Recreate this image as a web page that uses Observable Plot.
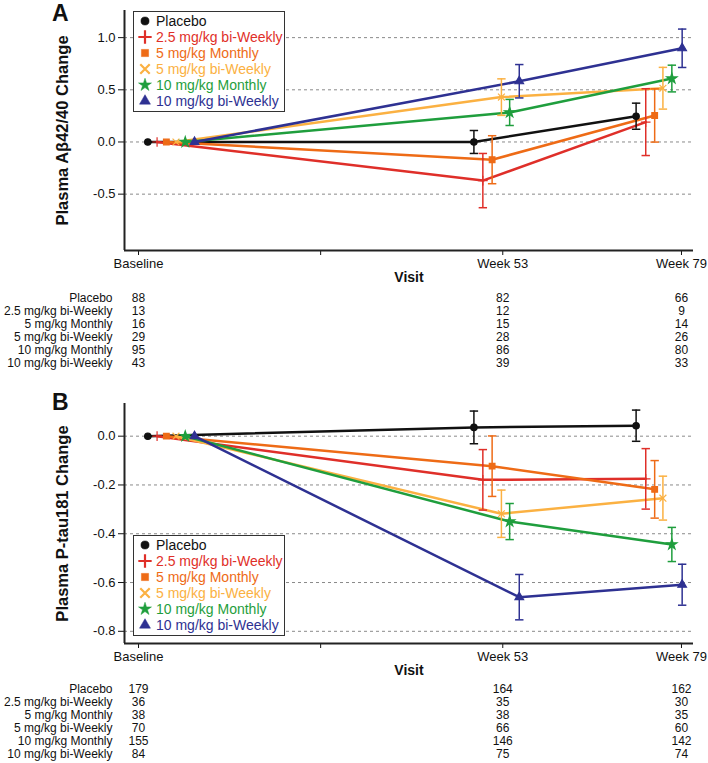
<!DOCTYPE html>
<html><head><meta charset="utf-8">
<script src="https://cdn.jsdelivr.net/npm/d3@7"></script>
<script src="https://cdn.jsdelivr.net/npm/@observablehq/plot@0.6"></script>
<style>
body{margin:0;background:#fff;font-family:"Liberation Sans",Arial,sans-serif;}
#root{position:relative;width:708px;height:763px;overflow:hidden;background:#fff;}
.abs{position:absolute;left:0;}
.letter{position:absolute;font-weight:bold;font-size:23px;line-height:23px;color:#111;}
.legend{position:absolute;border:1px solid #333;background:#fff;box-sizing:border-box;padding-top:1px;padding-left:4px;}
.legend .row{display:flex;align-items:center;height:16px;font-size:14px;white-space:nowrap;}
.legend svg{width:14px;height:16px;margin-right:4px;flex:none;}
</style></head><body><div id="root"></div><script>
// ---- data ----
const groups = ["Placebo", "2.5 mg/kg bi-Weekly", "5 mg/kg Monthly", "5 mg/kg bi-Weekly", "10 mg/kg Monthly", "10 mg/kg bi-Weekly"];
const colors = ["#111111", "#df2f29", "#ee6b16", "#fbb142", "#1f9e3d", "#2e3192"];
const symbolNames = ["circle", "plus", "square", "times", "star", "triangle"];
const visitWeeks = [0, 53, 79];
// plotted (dodged) visit time in weeks, per visit, per group
const xBaseline = [1.35, 2.7, 4.05, 5.45, 6.8, 8.15];
const xWeek53 = [48.8, 50.1, 51.45, 52.8, 54.0, 55.4];
const xWeek79 = [72.4, 73.8, 75.1, 76.3, 77.6, 79.1];
const xTickValues = [0, 26.5, 53, 79];
const xTickLabels = ["Baseline", "", "Week 53", "Week 79"];
const xDomain = [-2.04, 80.75];

// Panel A: Plasma Abeta42/40 change (mean, error)
const meanA_placebo = [0, 0.0, 0.247];   const errA_placebo = [0, 0.11, 0.125];
const meanA_25bw    = [0, -0.37, 0.19];  const errA_25bw    = [0, 0.26, 0.32];
const meanA_5m      = [0, -0.17, 0.254]; const errA_5m      = [0, 0.23, 0.255];
const meanA_5bw     = [0, 0.43, 0.515];  const errA_5bw     = [0, 0.175, 0.2];
const meanA_10m     = [0, 0.283, 0.608]; const errA_10m     = [0, 0.125, 0.128];
const meanA_10bw    = [0, 0.582, 0.898]; const errA_10bw    = [0, 0.16, 0.184];
const yTicksA = [-0.5, 0, 0.5, 1.0];
const yDomainA = [-1.04, 1.26];
const countsA = [[88, 82, 66], [13, 12, 9], [16, 15, 14], [29, 28, 26], [95, 86, 80], [43, 39, 33]];

// Panel B: Plasma P-tau181 change
const meanB_placebo = [0, 0.036, 0.043];  const errB_placebo = [0, 0.067, 0.064];
const meanB_25bw    = [0, -0.179, -0.175]; const errB_25bw   = [0, 0.124, 0.124];
const meanB_5m      = [0, -0.123, -0.218]; const errB_5m     = [0, 0.124, 0.118];
const meanB_5bw     = [0, -0.318, -0.254]; const errB_5bw    = [0, 0.097, 0.09];
const meanB_10m     = [0, -0.35, -0.444];  const errB_10m    = [0, 0.074, 0.07];
const meanB_10bw    = [0, -0.66, -0.609];  const errB_10bw   = [0, 0.093, 0.084];
const yTicksB = [-0.8, -0.6, -0.4, -0.2, 0];
const yDomainB = [-0.85, 0.134];
const countsB = [[179, 164, 162], [36, 35, 30], [38, 38, 35], [70, 66, 60], [155, 146, 142], [84, 75, 74]];

// ---- drawing ----
const xPos = [xBaseline, xWeek53, xWeek79];
const FONT = "'Liberation Sans', Arial, sans-serif";
const capSymbol = {draw(ctx, size) { const w = Math.sqrt(size / Math.PI); ctx.moveTo(-w, 0); ctx.lineTo(w, 0); }};

function chart(means, errs, yDomain, yTicks, yLabel, height, marginTop) {
  const rows = [];
  groups.forEach((g, i) => [0, 1, 2].forEach(v => rows.push({group: g, x: xPos[v][i], y: means[i][v], e: errs[i][v]})));
  const eb = rows.filter(d => d.e > 0);
  return Plot.plot({
    width: 708, height, marginLeft: 124, marginRight: 15, marginTop, marginBottom: 42,
    style: {fontFamily: FONT, fontSize: "13px", background: "transparent", overflow: "visible", color: "#111"},
    x: {domain: xDomain},
    y: {domain: yDomain},
    color: {domain: groups, range: colors},
    symbol: {domain: groups, range: symbolNames},
    marks: [
      Plot.ruleY(yTicks, {stroke: "#8a8a8a", strokeDasharray: "3,3", strokeWidth: 1}),
      Plot.axisY({ticks: yTicks, tickFormat: d => d.toFixed(1), tickSize: 6, tickPadding: 3, label: null, fontSize: 13}),
      Plot.axisX({ticks: xTickValues, tickFormat: d => xTickLabels[xTickValues.indexOf(d)], tickSize: 5, tickPadding: 3, label: null, fontSize: 13}),
      Plot.ruleX([xDomain[0]], {stroke: "#222", strokeWidth: 2}),
      Plot.ruleY([yDomain[0]], {stroke: "#222", strokeWidth: 2}),
      Plot.line(rows, {x: "x", y: "y", z: "group", stroke: "group", strokeWidth: 2.5}),
      Plot.ruleX(eb, {x: "x", y1: d => d.y - d.e, y2: d => d.y + d.e, stroke: "group", strokeWidth: 1.5}),
      Plot.dot(eb, {x: "x", y: d => d.y + d.e, symbol: capSymbol, r: 4.2, stroke: "group", fill: "none", strokeWidth: 1.5}),
      Plot.dot(eb, {x: "x", y: d => d.y - d.e, symbol: capSymbol, r: 4.2, stroke: "group", fill: "none", strokeWidth: 1.5}),
      Plot.dot(rows, {x: "x", y: "y", symbol: "group", fill: "group", stroke: "group", r: 3.2, strokeWidth: 1.2}),
      Plot.text([yLabel], {frameAnchor: "left", textAnchor: "middle", lineAnchor: "middle", rotate: -90, dx: -62, fontWeight: "bold", fontSize: 16.5, fill: "#111"}),
      Plot.text(["Visit"], {frameAnchor: "bottom", textAnchor: "middle", dy: 31, fontWeight: "bold", fontSize: 14, fill: "#111"})
    ]
  });
}

function table(counts) {
  const rows = [];
  groups.forEach((g, i) => visitWeeks.forEach((w, j) => rows.push({group: g, x: w, n: counts[i][j]})));
  return Plot.plot({
    width: 708, height: 78, marginLeft: 124, marginRight: 15, marginTop: 0, marginBottom: 0,
    style: {fontFamily: FONT, fontSize: "12px", background: "transparent", overflow: "visible", color: "#111"},
    x: {domain: xDomain, axis: null},
    y: {type: "band", domain: groups, padding: 0},
    marks: [
      Plot.axisY({tickSize: 0, tickPadding: 12, fontSize: 12, label: null}),
      Plot.text(rows, {x: "x", y: "group", text: "n", fontSize: 12, fill: "#111"})
    ]
  });
}

function legend(left, top) {
  const div = document.createElement("div");
  div.className = "legend";
  Object.assign(div.style, {left: left + "px", top: top + "px", width: "152px", height: "101px"});
  const symMap = {circle: d3.symbolCircle, plus: d3.symbolPlus, square: d3.symbolSquare, times: d3.symbolTimes, star: d3.symbolStar, triangle: d3.symbolTriangle};
  groups.forEach((g, i) => {
    const row = document.createElement("div");
    row.className = "row";
    const stroked = symbolNames[i] === "plus" || symbolNames[i] === "times";
    const path = d3.symbol(symMap[symbolNames[i]], stroked ? 60 : 52)();
    row.innerHTML = `<svg viewBox="-7 -8 14 16"><path d="${path}" fill="${stroked ? "none" : colors[i]}" stroke="${colors[i]}" stroke-width="${stroked ? 2.2 : 0.5}"/></svg>`;
    const span = document.createElement("span");
    span.textContent = g;
    span.style.color = colors[i];
    row.appendChild(span);
    div.appendChild(row);
  });
  return div;
}

const root = document.getElementById("root");
function place(el, top) { const w = document.createElement("div"); w.className = "abs"; w.style.top = top + "px"; w.appendChild(el); root.appendChild(w); }

place(chart([meanA_placebo, meanA_25bw, meanA_5m, meanA_5bw, meanA_10m, meanA_10bw],
             [errA_placebo, errA_25bw, errA_5m, errA_5bw, errA_10m, errA_10bw],
             yDomainA, yTicksA, "Plasma Aβ42/40 Change", 292, 10), 0);
place(table(countsA), 291);
place(chart([meanB_placebo, meanB_25bw, meanB_5m, meanB_5bw, meanB_10m, meanB_10bw],
             [errB_placebo, errB_25bw, errB_5m, errB_5bw, errB_10m, errB_10bw],
             yDomainB, yTicksB, "Plasma P-tau181 Change", 295, 13), 390);
place(table(countsB), 681.5);
root.appendChild(legend(133, 11));
root.appendChild(legend(133, 535));
const la = document.createElement("div"); la.className = "letter"; la.textContent = "A"; la.style.left = "52px"; la.style.top = "2px"; root.appendChild(la);
const lb = document.createElement("div"); lb.className = "letter"; lb.textContent = "B"; lb.style.left = "52px"; lb.style.top = "391px"; root.appendChild(lb);
</script></body></html>
